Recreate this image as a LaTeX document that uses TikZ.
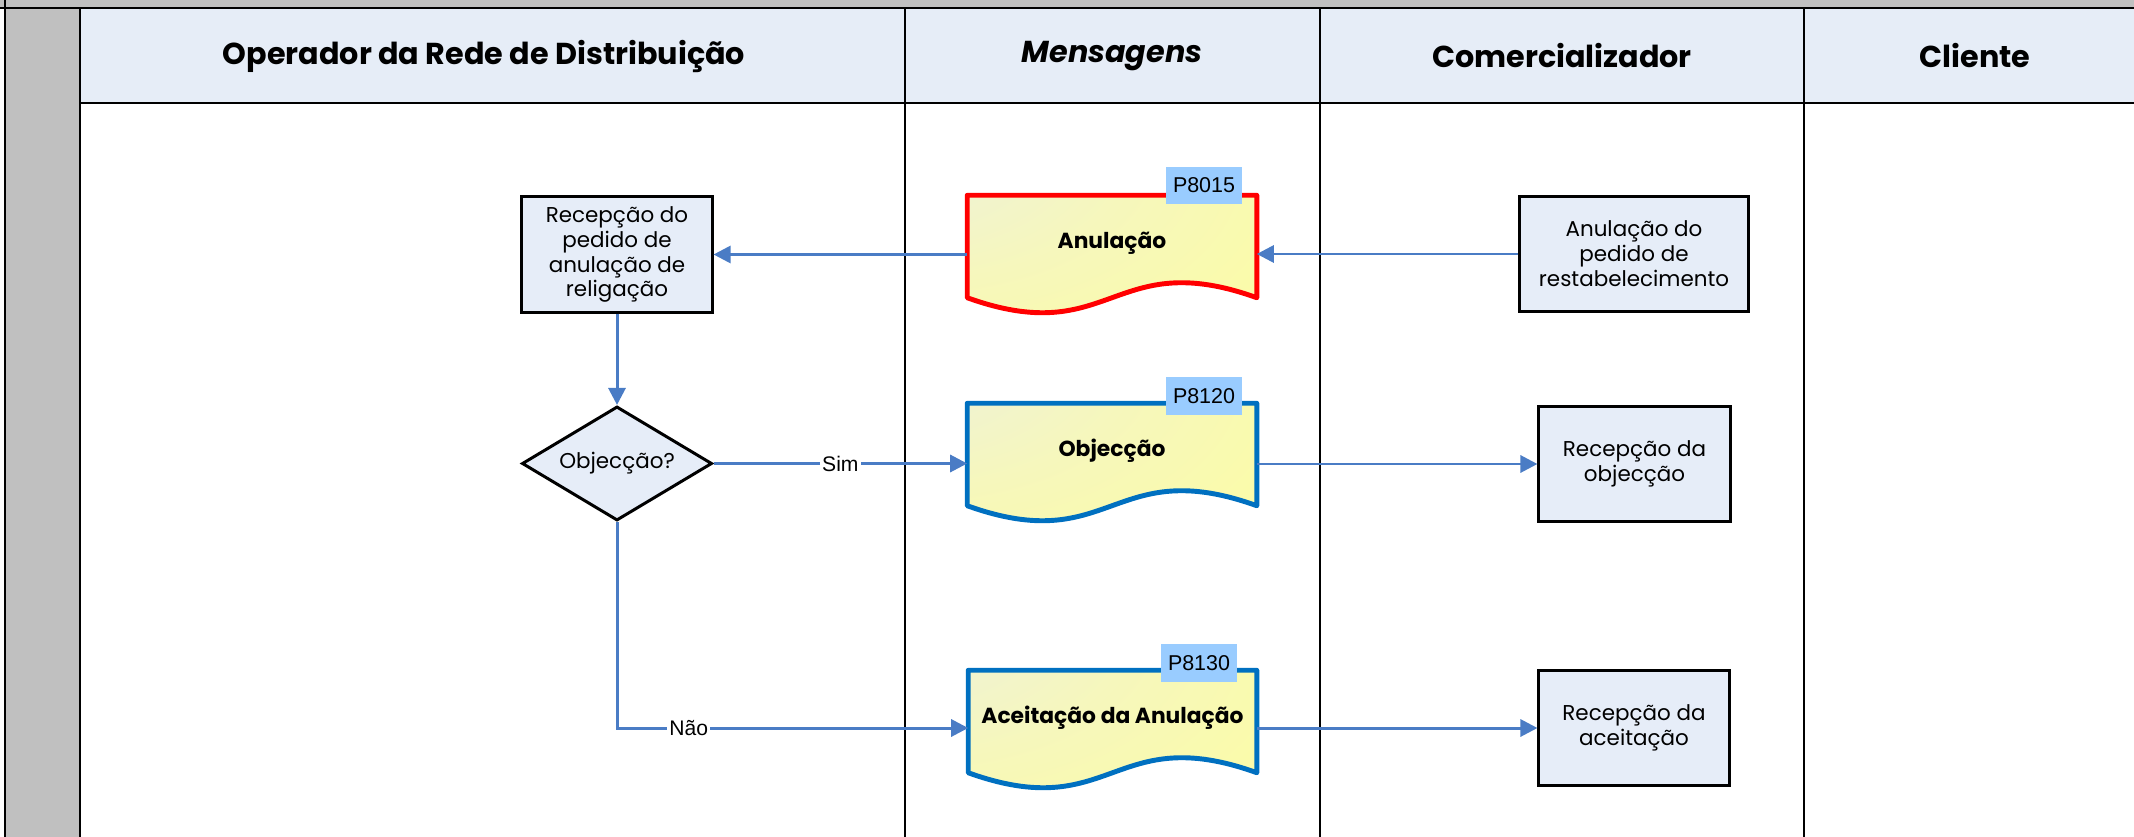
\documentclass[tikz,border=0pt]{standalone}
\usepackage{fontspec}
\setmainfont{Poppins}
\newfontfamily\arialf{Liberation Sans}
\usetikzlibrary{shapes.geometric,arrows.meta,calc}
\pgfdeclarelayer{bg}
\pgfsetlayers{bg,main}
\definecolor{gridgray}{HTML}{C0C0C0}
\definecolor{hdrfill}{HTML}{E6EDF7}
\definecolor{boxfill}{HTML}{E6EDF8}
\definecolor{connblue}{HTML}{4A7CC5}
\definecolor{docblue}{HTML}{0070C0}
\definecolor{tagfill}{HTML}{99CCFF}
\definecolor{docA}{HTML}{E6ECF4}
\definecolor{docM}{HTML}{F6F7BC}
\definecolor{docB}{HTML}{FFFF99}
\pgfdeclareradialshading{docrad}{\pgfpoint{-50bp}{50bp}}{%
  color(0bp)=(docA); color(15bp)=(docA!50!docM); color(40bp)=(docM); color(85bp)=(docB); color(150bp)=(docB)}
\begin{document}
\begin{tikzpicture}[x=0.01cm,y=-0.01cm,
  frame/.style={draw=black,line width=0.6pt},
  hdr/.style={font={\fontsize{8.6}{9}\selectfont\bfseries}},
  procbox/.style={draw=black,fill=boxfill,line width=0.85pt,align=center,inner sep=0pt,
    font={\fontsize{6.1}{7.1}\selectfont}},
  decbox/.style={diamond,draw=black,fill=boxfill,line width=0.85pt,inner sep=0pt,aspect=1.67,
    minimum width=1.9cm,minimum height=1.14cm,font={\fontsize{6.1}{7.1}\selectfont}},
  docnode/.style={rectangle,inner sep=0pt,minimum width=2.88cm,minimum height=1.01cm,
    text height=5pt,text depth=4pt,font={\fontsize{6.2}{7.5}\selectfont\bfseries}},
  docshape/.style={line width=1.4pt,line join=round,shading=docrad},
  tagnode/.style={fill=tagfill,inner sep=0pt,minimum width=0.76cm,minimum height=0.37cm,
    font={\arialf\fontsize{6.1}{7}\selectfont}},
  conn/.style={draw=connblue,line width=0.85pt,-{Triangle[length=0.17cm,width=0.17cm]}},
  lbl/.style={fill=white,inner sep=0.6pt,font={\arialf\fontsize{6}{7}\selectfont}}
]
\useasboundingbox (0,0) rectangle (2134,837);
% frame
\fill[gridgray] (0,0) rectangle (2134,8);
\fill[gridgray] (5,8) rectangle (80,837);
\fill[hdrfill] (80,8) rectangle (2134,103);
\draw[frame] (0,8) -- (2134,8);
\draw[frame] (80,103) -- (2134,103);
\draw[frame] (5,0) -- (5,837);
\foreach \x in {80,905,1320,1804} \draw[frame] (\x,8) -- (\x,837);
% headers
\node[hdr] (h1) at (484,56) {Operador da Rede de Distribuição};
\node[hdr] (h2) at (1112,56) {\itshape Mensagens};
\node[hdr] (h3) at (1562,56) {Comercializador};
\node[hdr] (h4) at (1975,56) {Cliente};
% process boxes
\node[procbox,minimum width=1.9cm,minimum height=1.15cm] (rec) at (617,254.5)
  {Recepção do\\pedido de\\anulação de\\religação};
\node[decbox] (diam) at (617,463.5) {Objecção?};
\node[procbox,minimum width=2.28cm,minimum height=1.14cm] (anp) at (1634,254)
  {Anulação do\\pedido de\\restabelecimento};
\node[procbox,minimum width=1.91cm,minimum height=1.14cm] (rob) at (1634.5,464)
  {Recepção da\\objecção};
\node[procbox,minimum width=1.9cm,minimum height=1.14cm] (rac) at (1634,728)
  {Recepção da\\aceitação};
% documents
\node[docnode] (docA) at (1112,246.5) {Anulação};
\node[docnode] (docO) at (1112,454.5) {Objecção};
\node[docnode,minimum width=2.87cm] (docC) at (1112.5,721.5) {Aceitação da Anulação};
\begin{pgfonlayer}{bg}
\foreach \d/\c in {docA/red,docO/docblue,docC/docblue}{
  \path[docshape,draw=\c] (\d.north west) -- (\d.north east) -- (\d.south east)
    .. controls ($(\d.south)+(0,-52)$) and ($(\d.south)+(0,52)$) .. (\d.south west) -- cycle;
}
\end{pgfonlayer}
% tags
\node[tagnode] (tA) at (1204,185.5) {P8015};
\node[tagnode] (tO) at (1204,396) {P8120};
\node[tagnode] (tC) at (1199,663) {P8130};
% connectors
\draw[conn] (anp.west) -- (anp.west -| docA.east);
\draw[conn] (docA.west |- rec.east) -- (rec.east);
\draw[conn] (rec.south) -- (diam.north);
\draw[conn] (diam.east) -- node[lbl] {Sim} (diam.east -| docO.west);
\draw[conn] (docO.east |- rob.west) -- (rob.west);
\draw[conn] (diam.south) |- node[lbl,pos=0.602] {Não} (rac.west -| docC.west);
\draw[conn] (docC.east |- rac.west) -- (rac.west);
\end{tikzpicture}
\end{document}
